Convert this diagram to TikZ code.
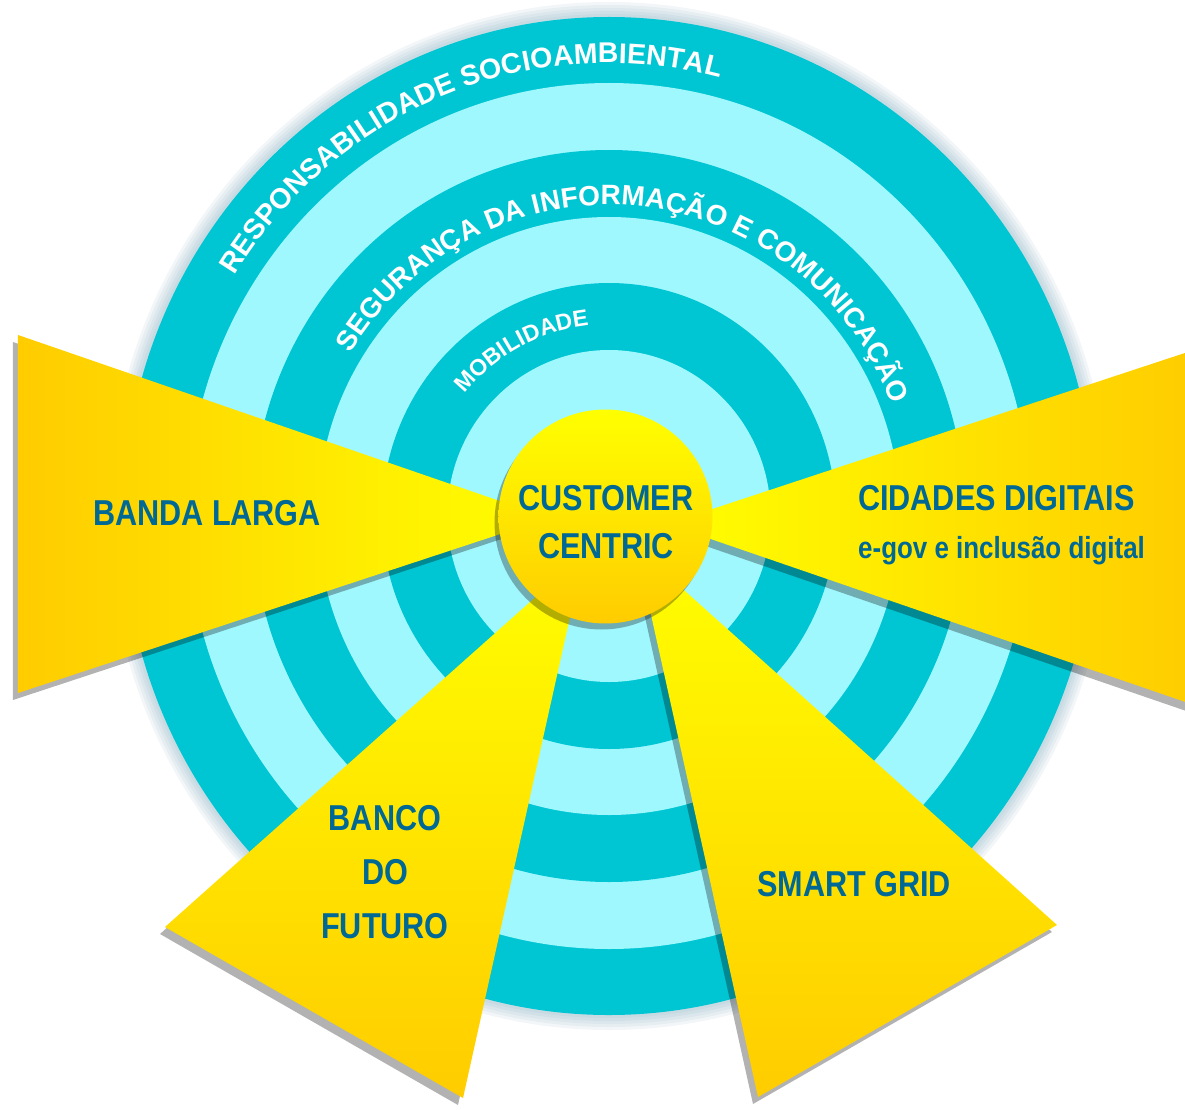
\documentclass[tikz,border=0pt]{standalone}
\usepackage{fontspec}
\setmainfont{Liberation Sans}
\newfontfamily\ringfont{Liberation Sans}
\newfontfamily\labelfont[FakeStretch=0.85]{Liberation Sans}
\usetikzlibrary{decorations.text}
\definecolor{ringdark}{RGB}{0,197,211}
\definecolor{ringlight}{RGB}{160,248,255}
\definecolor{sunyellow}{RGB}{255,255,0}
\definecolor{sungold}{RGB}{255,204,0}
\definecolor{labelblue}{RGB}{0,104,148}
\definecolor{halo}{RGB}{130,170,190}
\tikzset{
  raysh/.style={black, opacity=.3},
  lbl/.style={font=\labelfont\bfseries\fontsize{36}{48}\selectfont, text=labelblue, inner sep=0pt, align=center}
}
\newcommand{\band}[2]{ \fill[#1] (0,0) circle[radius=#2];}
\newcommand{\ray}[4]{ \fill[raysh, shift={(-5,-7)}] #2 -- #3 -- #4 -- cycle; \shade[#1] #2 -- #3 -- #4 -- cycle;}
\newcommand{\ringtext}[5]{ \path[decorate, decoration={text along path, text align=center, text color=white, text={|\ringfont\bfseries\fontsize{#4}{#4}\selectfont|#5}}] (#1:#3) arc[start angle=#1, end angle=#2, radius=#3];}

\begin{document}
\begin{tikzpicture}[x=1pt, y=1pt]
        \useasboundingbox (-609,-593) rectangle (576,516);
        \clip (-609,-593) rectangle (576,516);
        \fill[white] (-609,-593) rectangle (576,516);
        % rings
        \begin{scope}[xscale=0.974]
          \foreach \g in {15,12,9,6,3}
            \fill[halo, opacity=.1] (0,0) circle[radius=499+\g];
          \band{ringdark}{499}
          \band{ringlight}{433}
          \band{ringdark}{366}
          \band{ringlight}{299}
          \band{ringdark}{233}
          \band{ringlight}{166}
          % ring labels
          \ringtext{171.5}{51.5}{453}{28.5}{RESPONSABILIDADE SOCIOAMBIENTAL}
          \ringtext{169.8}{-0.2}{311}{28}{SEGURANÇA DA INFORMAÇÃO E COMUNICAÇÃO}
          \ringtext{168}{68}{192}{23}{MOBILIDADE}
        \end{scope}
        % rays
        \ray{left color=sungold, right color=sunyellow}{(-591,181)}{(-591,-177)}{(-60,-2)}
        \ray{left color=sunyellow, right color=sungold}{(58,-8)}{(591,168)}{(591,-191)}
        \ray{top color=sunyellow, bottom color=sungold}{(-25,-38)}{(-444,-411)}{(-146,-582)}
        \ray{top color=sunyellow, bottom color=sungold}{(27,-31)}{(149,-581)}{(448,-409)}
        % centre
        \fill[raysh] (-7.5,-6.5) circle[radius=107];
        \shade[top color=sunyellow, bottom color=sungold] (-3.5,-0.5) circle[radius=107];
        \node[lbl] (customer) at (-3,-6.5) {CUSTOMER\\CENTRIC};
        \node[lbl, anchor=base] (banda) at (-402,-9) {BANDA LARGA};
        \node[lbl, anchor=base west] (cidades) at (249,6) {CIDADES DIGITAIS};
        \node[lbl, anchor=base west, font=\labelfont\bfseries\fontsize{30.5}{36}\selectfont] (egov) at (249,-42) {e-gov e inclusão digital};
        \node[lbl, font=\labelfont\bfseries\fontsize{36}{54}\selectfont] (banco) at (-224,-356) {BANCO\\DO\\FUTURO};
        \node[lbl, anchor=base] (smart) at (245,-380) {SMART GRID};
\end{tikzpicture}
\end{document}
